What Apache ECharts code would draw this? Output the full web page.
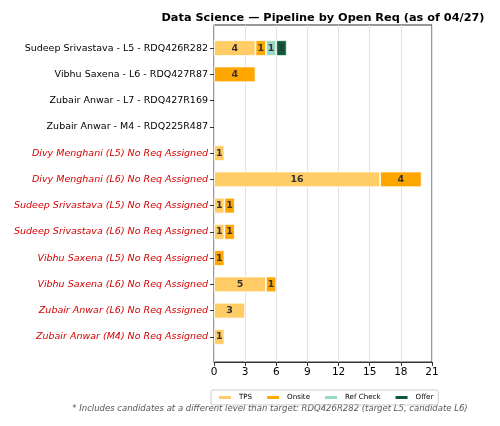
<!DOCTYPE html>
<html><head><meta charset="utf-8">
<script src="https://cdn.jsdelivr.net/npm/echarts@6/dist/echarts.min.js"></script>
<style>html,body{margin:0;padding:0;background:#fff}#c{width:500px;height:426px}</style>
</head><body><div id="c"></div>
<script>
const categories = [
  "Sudeep Srivastava - L5 - RDQ426R282",
  "Vibhu Saxena - L6 - RDQ427R87",
  "Zubair Anwar - L7 - RDQ427R169",
  "Zubair Anwar - M4 - RDQ225R487",
  "Divy Menghani (L5) No Req Assigned",
  "Divy Menghani (L6) No Req Assigned",
  "Sudeep Srivastava (L5) No Req Assigned",
  "Sudeep Srivastava (L6) No Req Assigned",
  "Vibhu Saxena (L5) No Req Assigned",
  "Vibhu Saxena (L6) No Req Assigned",
  "Zubair Anwar (L6) No Req Assigned",
  "Zubair Anwar (M4) No Req Assigned"
];
const noReq = [false,false,false,false,true,true,true,true,true,true,true,true];
const tps      = [4, 0, 0, 0, 1, 16, 1, 1, 0, 5, 3, 1];
const onsite   = [1, 4, 0, 0, 0, 4, 1, 1, 1, 1, 0, 0];
const refCheck = [1, 0, 0, 0, 0, 0, 0, 0, 0, 0, 0, 0];
const offer    = [1, 0, 0, 0, 0, 0, 0, 0, 0, 0, 0, 0];
const xTicks = [0, 3, 6, 9, 12, 15, 18, 21];
const seriesNames = ["TPS", "Onsite", "Ref Check", "Offer"];
const colors = ["#ffcc66", "#ffa600", "#99d8c4", "#0b5a3a"];
const footnote = "* Includes candidates at a different level than target: RDQ426R282 (target L5, candidate L6)";
const title = "Data Science \u2014 Pipeline by Open Req (as of 04/27)";

const FONT = "DejaVu Sans";
const chart = echarts.init(document.getElementById('c'), null, {renderer: 'canvas'});
const vals = [tps, onsite, refCheck, offer];
const series = seriesNames.map((n, i) => ({
  name: n, type: 'bar', stack: 'all', xAxisIndex: 0, yAxisIndex: 0,
  barWidth: '60%',
  itemStyle: {color: colors[i], borderColor: '#fff', borderWidth: 0.8},
  label: {show: true, position: 'inside', fontFamily: FONT, fontWeight: 'bold', fontSize: 9.5, color: '#333',
    formatter: p => p.value > 0 ? p.value : ''},
  labelLayout: {hideOverlap: false},
  data: vals[i].map(v => v === 0 ? null : v)
}));
chart.setOption({
  animation: false,
  legend: {data: seriesNames.map((n, i) => ({name: n, itemStyle: {color: colors[i]}})),
    left: 211, top: 390, itemWidth: 14, itemHeight: 5, itemGap: 13,
    borderColor: '#ccc', borderWidth: 1, borderRadius: 2, padding: [4, 5, 4, 6],
    textStyle: {fontFamily: FONT, fontSize: 7.1, color: '#000', padding: [0, 0, 0, 2]}},
  graphic: [
    {type: 'text', x: 323, y: 13, style: {text: title, textAlign: 'center',
      font: 'bold 11.3px "DejaVu Sans"', fill: '#000'}},
    {type: 'text', x: 270, y: 404, style: {text: footnote, textAlign: 'center',
      font: 'italic 8.5px "DejaVu Sans"', fill: '#555'}}],
  grid: [
    {left: 214, right: 68, top: 35, bottom: 76},
    {left: 214, right: 68, top: 25, bottom: 64, show: true, borderColor: '#333', borderWidth: 1, backgroundColor: 'transparent', z: 0}
  ],
  xAxis: [
    {type: 'value', gridIndex: 0, min: 0, max: 21, interval: 3, position: 'bottom', offset: 12,
      axisLine: {show: false}, axisTick: {show: false}, axisLabel: {show: false}, splitLine: {show: false}},
    {type: 'value', gridIndex: 1, min: 0, max: 21, interval: 3, position: 'bottom',
      axisLine: {show: true, lineStyle: {color: '#333'}},
      axisTick: {show: true, length: 4, lineStyle: {color: '#333'}},
      axisLabel: {fontFamily: FONT, fontSize: 10.5, color: '#000', margin: 5},
      splitLine: {show: true, lineStyle: {color: '#e3e3e3', width: 1}}}
  ],
  yAxis: [
    {type: 'category', gridIndex: 0, data: categories, inverse: true,
      axisLine: {show: false}, axisTick: {show: true, alignWithLabel: true, length: 4, lineStyle: {color: '#333'}},
      axisLabel: {margin: 6, fontFamily: FONT, fontSize: 9.5,
        formatter: (v, i) => noReq[i] ? '{r|' + v + '}' : '{n|' + v + '}',
        rich: {r: {fontFamily: FONT, fontSize: 9.5, fontStyle: 'italic', color: '#d40000'},
               n: {fontFamily: FONT, fontSize: 9.5, color: '#000'}}}},
    {type: 'value', gridIndex: 1, show: false, min: 0, max: 1}
  ],
  series: series
});
</script></body></html>
